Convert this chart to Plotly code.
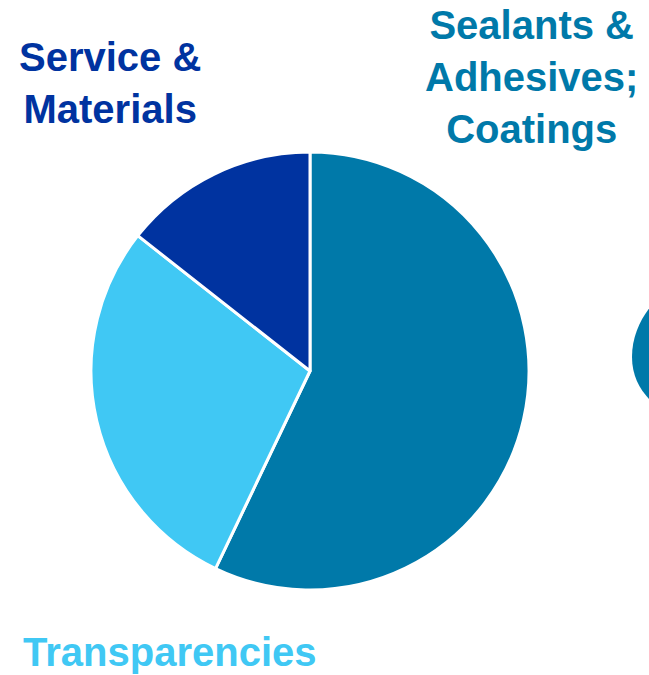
import plotly.graph_objects as go

categories = ["Sealants & Adhesives; Coatings", "Transparencies", "Service & Materials"]
values = [57.1, 28.5, 14.4]
colors = ["#0079A9", "#40C8F4", "#0033A0"]

W, H = 649, 675

def px(x):
    return x / W

def py(y):
    return 1 - y / H

fig = go.Figure()
fig.add_trace(go.Pie(
    labels=categories,
    values=values,
    sort=False,
    direction="clockwise",
    rotation=0,
    marker=dict(colors=colors, line=dict(color="white", width=3)),
    textinfo="none",
    hoverinfo="label+percent",
    showlegend=False,
    domain=dict(x=[px(91), px(529)], y=[py(590), py(152)]),
))

font_family = "Liberation Sans, Arial, sans-serif"
fs = 40
fig.add_annotation(text="<b>Service &amp;<br>Materials</b>", x=px(110), y=py(83),
                   xref="paper", yref="paper", showarrow=False, xanchor="center", yanchor="middle",
                   font=dict(family=font_family, size=fs, color=colors[2]))
fig.add_annotation(text="<b>Sealants &amp;<br>Adhesives;<br>Coatings</b>", x=px(531), y=py(77),
                   xref="paper", yref="paper", showarrow=False, xanchor="center", yanchor="middle",
                   font=dict(family=font_family, size=fs, color=colors[0]))
fig.add_annotation(text="<b>Transparencies</b>", x=px(170), y=py(652),
                   xref="paper", yref="paper", showarrow=False, xanchor="center", yanchor="middle",
                   font=dict(family=font_family, size=fs, color=colors[1]))

# decorative partial shape at right edge
path = (f"M {px(651)},{py(306)} "
        f"C {px(640)},{py(320)} {px(632)},{py(337)} {px(632)},{py(357)} "
        f"C {px(632)},{py(376)} {px(640)},{py(390)} {px(651)},{py(401)} Z")
fig.add_shape(type="path", path=path, xref="paper", yref="paper",
              fillcolor=colors[0], line=dict(width=0))

fig.update_layout(width=W, height=H, margin=dict(l=0, r=0, t=0, b=0),
                  paper_bgcolor="white", plot_bgcolor="white")

fig.write_html("out.html", config={"displayModeBar": False},
               post_script="document.body.style.margin='0';")
